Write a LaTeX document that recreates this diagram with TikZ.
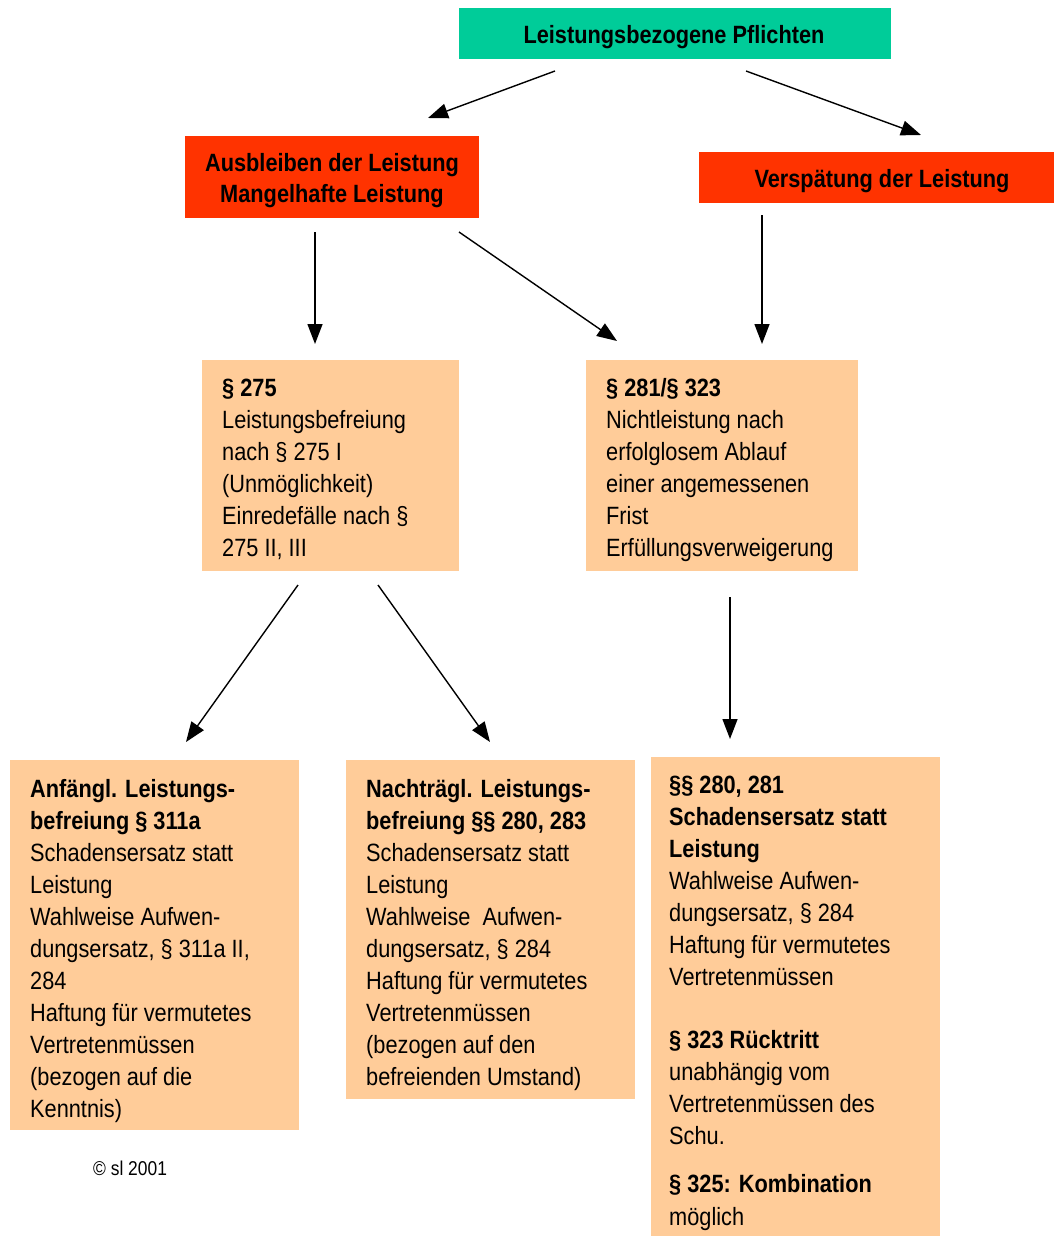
\documentclass[tikz,border=0pt]{standalone}
\usepackage{fontspec}
\setmainfont{Liberation Sans}[FakeStretch=0.87]
\usetikzlibrary{arrows.meta}
\definecolor{topgreen}{HTML}{00CC99}
\definecolor{redbox}{HTML}{FF3300}
\definecolor{peach}{HTML}{FFCC99}
\tikzset{
  boxshape/.style={anchor=north west, inner sep=0pt, outer sep=0pt, draw=none},
  txt/.style={anchor=base west, inner sep=0pt, font=\fontsize{25}{32}\selectfont},
  ctxt/.style={anchor=base, inner sep=0pt, font=\fontsize{25}{32}\selectfont\bfseries},
  conn/.style={line width=1.4pt, -{Triangle[length=20pt,width=15pt]}},
}
\begin{document}
\begin{tikzpicture}[x=1pt,y=-1pt]
\useasboundingbox (0,0) rectangle (1054,1236);
% boxes
\node[boxshape, fill=topgreen, minimum width=432pt, minimum height=51pt] (top) at (459,8) {};
\node[boxshape, fill=redbox, minimum width=294pt, minimum height=82pt] (redl) at (185,136) {};
\node[boxshape, fill=redbox, minimum width=355pt, minimum height=51pt] (redr) at (699,152) {};
\node[boxshape, fill=peach, minimum width=257pt, minimum height=211pt] (b275) at (202,360) {};
\node[boxshape, fill=peach, minimum width=272pt, minimum height=211pt] (b281) at (586,360) {};
\node[boxshape, fill=peach, minimum width=289pt, minimum height=370pt] (bl) at (10,760) {};
\node[boxshape, fill=peach, minimum width=289pt, minimum height=339pt] (bm) at (346,760) {};
\node[boxshape, fill=peach, minimum width=289pt, minimum height=479pt] (br) at (651,757) {};
% texts
\node[ctxt] (ttop) at (674,44) {Leistungsbezogene Pflichten};
\node[ctxt] (tredl) at (332,171) {\parbox[t]{290pt}{\centering Ausbleiben der Leistung\\Mangelhafte Leistung}};
\node[ctxt] (tredr) at (882,187) {Verspätung der Leistung};
\node[txt] (t275) at (222,396) {\parbox[t]{240pt}{\textbf{§ 275}\\Leistungsbefreiung\\nach § 275 I\\(Unmöglichkeit)\\Einredefälle nach §\\275 II, III}};
\node[txt] (t281) at (606,396) {\parbox[t]{250pt}{\textbf{§ 281/§ 323}\\Nichtleistung nach\\erfolglosem Ablauf\\einer angemessenen\\Frist\\Erfüllungsverweigerung}};
\node[txt] (tbl) at (30,797) {\parbox[t]{265pt}{\textbf{Anfängl. Leistungs-}\\\textbf{befreiung § 311a}\\Schadensersatz statt\\Leistung\\Wahlweise Aufwen-\\dungsersatz, § 311a II,\\284\\Haftung für vermutetes\\Vertretenmüssen\\(bezogen auf die\\Kenntnis)}};
\node[txt] (tbm) at (366,797) {\parbox[t]{265pt}{\textbf{Nachträgl. Leistungs-}\\\textbf{befreiung §§ 280, 283}\\Schadensersatz statt\\Leistung\\Wahlweise\ \ Aufwen-\\dungsersatz, § 284\\Haftung für vermutetes\\Vertretenmüssen\\(bezogen auf den\\befreienden Umstand)}};
\node[txt] (tbr1) at (669,793) {\parbox[t]{265pt}{\textbf{§§ 280, 281}\\\textbf{Schadensersatz statt}\\\textbf{Leistung}\\Wahlweise Aufwen-\\dungsersatz, § 284\\Haftung für vermutetes\\Vertretenmüssen}};
\node[txt] (tbr2) at (669,1048) {\parbox[t]{265pt}{\textbf{§ 323 Rücktritt}\\unabhängig vom\\Vertretenmüssen des\\Schu.}};
\node[txt] (tbr3) at (669,1192) {\parbox[t]{265pt}{\textbf{§ 325: Kombination}\\[1pt]möglich}};
\node[anchor=base west, inner sep=0pt, font=\fontsize{20}{24}\selectfont] (copy) at (93,1175) {© sl 2001};
% connector end points
\coordinate (a1s) at (555,71);  \coordinate (a1e) at (428,118);
\coordinate (a2s) at (746,71);  \coordinate (a2e) at (921,135);
\coordinate (a3s) at (315,232); \coordinate (a3e) at (315,344);
\coordinate (a4s) at (459,232); \coordinate (a4e) at (617,341);
\coordinate (a5s) at (762,215); \coordinate (a5e) at (762,344);
\coordinate (a6s) at (298,585); \coordinate (a6e) at (186,742);
\coordinate (a7s) at (378,585); \coordinate (a7e) at (490,742);
\coordinate (a8s) at (730,597); \coordinate (a8e) at (730,739);
\draw[conn] (a1s) -- (a1e);
\draw[conn] (a2s) -- (a2e);
\draw[conn] (a3s) -- (a3e);
\draw[conn] (a4s) -- (a4e);
\draw[conn] (a5s) -- (a5e);
\draw[conn] (a6s) -- (a6e);
\draw[conn] (a7s) -- (a7e);
\draw[conn] (a8s) -- (a8e);
\end{tikzpicture}
\end{document}
